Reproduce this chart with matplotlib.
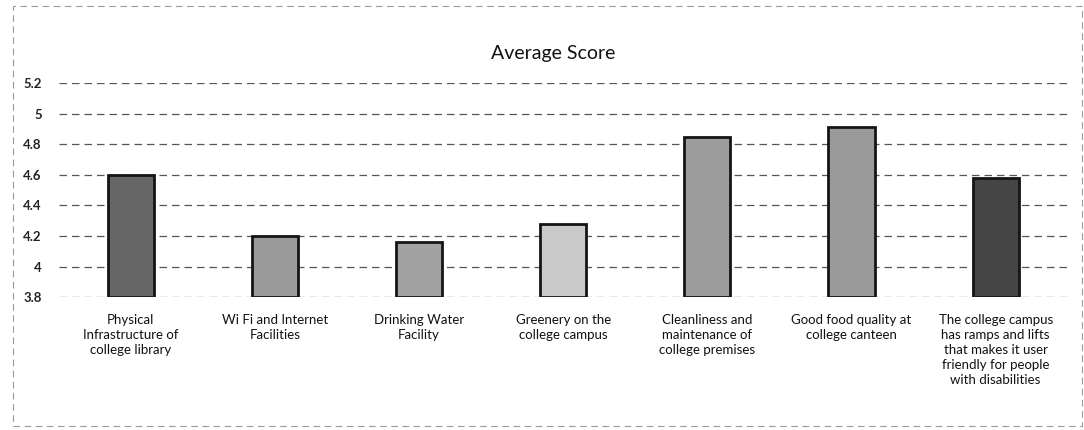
import matplotlib.pyplot as plt
from matplotlib.patches import Rectangle

categories = [
    "Physical\nInfrastructure of\ncollege library",
    "Wi Fi and Internet\nFacilities",
    "Drinking Water\nFacility",
    "Greenery on the\ncollege campus",
    "Cleanliness and\nmaintenance of\ncollege premises",
    "Good food quality at\ncollege canteen",
    "The college campus\nhas ramps and lifts\nthat makes it user\nfriendly for people\nwith disabilities",
]
scores = [4.60, 4.20, 4.16, 4.28, 4.85, 4.91, 4.58]
bar_colors = ["#666666", "#9a9a9a", "#a2a2a2", "#c9c9c9", "#9c9c9c", "#9a9a9a", "#454545"]
yticks = [3.8, 4.0, 4.2, 4.4, 4.6, 4.8, 5.0, 5.2]
ytick_labels = ["3.8", "4", "4.2", "4.4", "4.6", "4.8", "5", "5.2"]

plt.rcParams['font.family'] = ['Lato', 'DejaVu Sans']

fig = plt.figure(figsize=(10.84, 4.30), dpi=100)
ax = fig.add_axes([0.054, 0.309, 0.931, 0.498])

x = range(len(categories))
ax.bar(x, [s - 3.8 for s in scores], bottom=3.8, width=0.32,
       color=bar_colors, edgecolor="#151515", linewidth=2, zorder=3)

ax.set_ylim(3.8, 5.2)
ax.set_xlim(-0.5, len(categories) - 0.5)
ax.set_yticks(yticks)
ax.set_yticklabels(ytick_labels, fontsize=9.5, fontweight='bold', color="#222222")
ax.set_xticks(list(x))
ax.set_xticklabels(categories, fontsize=9.5, color="#111111", linespacing=1.3)
ax.tick_params(axis='x', length=0, pad=12)
ax.tick_params(axis='y', length=0, pad=12)
ax.yaxis.grid(True, color="#555555", linestyle=(0, (6, 4)), linewidth=0.9, zorder=0)
for sp in ax.spines.values():
    sp.set_visible(False)

fig.text(0.51, 0.875, "Average Score", ha='center', va='center', fontsize=14, color="#111111")

fig.patches.append(Rectangle((0.012, 0.01), 0.986, 0.975, transform=fig.transFigure,
                             fill=False, edgecolor="#9a9a9a", linestyle=(0, (6, 4)), linewidth=0.8))

fig.savefig("out.png", dpi=100)
